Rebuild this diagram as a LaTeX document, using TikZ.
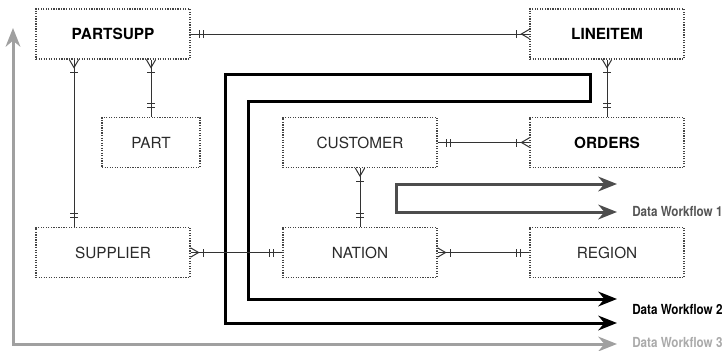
\documentclass[tikz,border=0pt]{standalone}
\usepackage{fontspec}
\setmainfont{TeX Gyre Heros}
\newfontfamily\wffont[FakeStretch=0.84]{TeX Gyre Heros}
\usepackage{tikz}
\usetikzlibrary{positioning,arrows.meta,calc,decorations.markings}
\usepackage{xcolor}
\definecolor{boxgray}{HTML}{444444}
\definecolor{textgray}{HTML}{2A2A2A}
\definecolor{relgray}{HTML}{333333}
\definecolor{wfone}{HTML}{4D4D4D}
\definecolor{wfthree}{HTML}{A0A0A0}
\definecolor{labone}{HTML}{555555}
\definecolor{labthree}{HTML}{AAAAAA}

\tikzset{
  ent/.style={draw=boxgray, densely dotted, line width=0.9pt, minimum width=115.5pt,
    minimum height=37.5pt, inner sep=0pt, text=textgray, font=\fontsize{11.5}{13}\selectfont},
  entb/.style={ent, text=black, font=\fontsize{11.5}{13}\selectfont\bfseries},
  rel/.style={draw=relgray, line width=0.75pt},
  one start/.style={postaction={decorate, decoration={markings,
      mark=at position 7pt with {\draw[relgray, line width=0.75pt] (0,-3pt) -- (0,3pt);},
      mark=at position 10pt with {\draw[relgray, line width=0.75pt] (0,-3pt) -- (0,3pt);}}}},
  one end/.style={postaction={decorate, decoration={markings,
      mark=at position -10pt with {\draw[relgray, line width=0.75pt] (0,-3pt) -- (0,3pt);},
      mark=at position -7pt with {\draw[relgray, line width=0.75pt] (0,-3pt) -- (0,3pt);}}}},
  many start/.style={postaction={decorate, decoration={markings,
      mark=at position 6pt with {\draw[relgray, line width=0.75pt] (-6pt,3.5pt) -- (0,0) -- (-6pt,-3.5pt);},
      mark=at position 10pt with {\draw[relgray, line width=0.75pt] (0,-3pt) -- (0,3pt);}}}},
  many end/.style={postaction={decorate, decoration={markings,
      mark=at position -10pt with {\draw[relgray, line width=0.75pt] (0,-3pt) -- (0,3pt);},
      mark=at position -6pt with {\draw[relgray, line width=0.75pt] (6pt,3.5pt) -- (0,0) -- (6pt,-3.5pt);}}}},
  flow/.style={line width=2.25pt},
  wflab/.style={anchor=west, inner sep=0pt, font=\wffont\fontsize{10.4}{12}\selectfont\bfseries}
}

\begin{document}
\begin{tikzpicture}[x=0.75pt, y=-0.75pt,
    >={Stealth[length=14pt, width=11pt, inset=4.5pt]}]
    \useasboundingbox (0,0) rectangle (723,350);

    % --- Data workflows ---
    \draw[flow, color=wfone, <->] (617,184) -- (396,184) -- (396,212) -- (617,212);
    \draw[flow, color=black, <->] (617,299) -- (248,299) -- (248,101) -- (590,101)
        -- (590,74) -- (225,74) -- (225,323) -- (617,323);
    \draw[flow, color=wfthree, <->] (13,28) -- (13,344) -- (617,344);

    \node[wflab, text=labone] (wf1) at (632,212) {Data Workflow 1};
    \node[wflab, text=black] (wf2) at (632,310) {Data Workflow 2};
    \node[wflab, text=labthree] (wf3) at (632,342) {Data Workflow 3};

    % --- Tables ---
    \node[entb] (partsupp) at (113,34) {PARTSUPP};
    \node[entb] (lineitem) at (607,34) {LINEITEM};
    \node[ent, minimum width=73.5pt] (part) at (151,142.5) {PART};
    \node[ent] (customer) at (360,142.5) {CUSTOMER};
    \node[entb] (orders) at (607,142.5) {ORDERS};
    \node[ent] (supplier) at (113,252.5) {SUPPLIER};
    \node[ent] (nation) at (360,252.5) {NATION};
    \node[ent] (region) at (607,252.5) {REGION};

    % --- Relations ---
    \draw[rel, one start, many end] (partsupp) -- (lineitem);
    \draw[rel, many start, one end] (partsupp.south -| part.north) -- (part.north);
    \draw[rel, many start, one end] ($(partsupp.south)+(-39,0)$) -- ($(supplier.north)+(-39,0)$);
    \draw[rel, many start, one end] (lineitem) -- (orders);
    \draw[rel, one start, many end] (customer) -- (orders);
    \draw[rel, many start, one end] (customer) -- (nation);
    \draw[rel, many start, one end] (supplier) -- (nation);
    \draw[rel, many start, one end] (nation) -- (region);
\end{tikzpicture}
\end{document}
